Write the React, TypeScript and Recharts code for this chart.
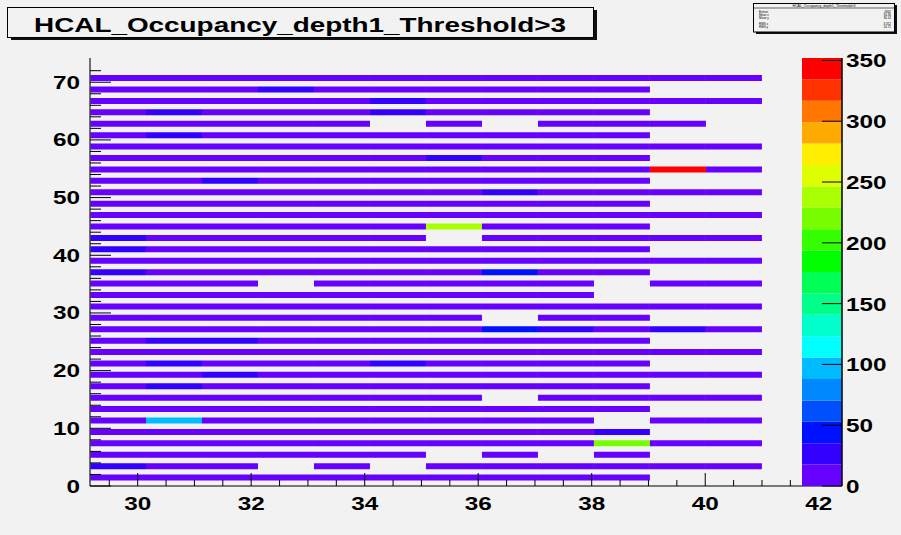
import React from "react";
import { ComposedChart, XAxis, YAxis, Bar, Cell } from "recharts";

// ieta bins (lower edges) and iphi rows (HF depth 1, odd iphi only)
const IETA_BINS = [29, 30, 31, 32, 33, 34, 35, 36, 37, 38, 39, 40];
const IPHI_ROWS = [
  1, 3, 5, 7, 9, 11, 13, 15, 17, 19, 21, 23, 25, 27, 29, 31, 33, 35,
  37, 39, 41, 43, 45, 47, 49, 51, 53, 55, 57, 59, 61, 63, 65, 67, 69, 71,
];

// occupancy per iphi row (bottom -> top), one value per ieta bin 29..40, 0 = empty
const OCCUPANCY = [
  /* 1 */ [10, 11, 10, 9, 10, 11, 10, 9, 10, 11, 0, 0],
  /* 3 */ [27, 11, 10, 0, 9, 0, 10, 11, 10, 9, 10, 11],
  /* 5 */ [10, 9, 11, 10, 9, 10, 0, 11, 0, 10, 0, 0],
  /* 7 */ [11, 10, 9, 10, 11, 10, 9, 10, 11, 221, 10, 9],
  /* 9 */ [10, 11, 10, 9, 10, 11, 10, 9, 10, 29, 0, 0],
  /* 11 */ [9, 98, 10, 11, 10, 9, 10, 11, 10, 0, 11, 10],
  /* 13 */ [11, 10, 9, 10, 11, 10, 9, 10, 11, 10, 0, 0],
  /* 15 */ [10, 9, 11, 10, 9, 10, 11, 0, 10, 9, 11, 10],
  /* 17 */ [9, 26, 10, 11, 10, 9, 10, 11, 10, 9, 0, 0],
  /* 19 */ [10, 11, 25, 9, 10, 11, 10, 9, 10, 11, 10, 9],
  /* 21 */ [11, 24, 10, 10, 11, 27, 9, 10, 11, 10, 0, 0],
  /* 23 */ [10, 9, 11, 10, 9, 10, 11, 10, 9, 10, 11, 10],
  /* 25 */ [9, 25, 26, 11, 10, 9, 10, 11, 10, 9, 0, 0],
  /* 27 */ [10, 11, 10, 9, 10, 11, 10, 44, 24, 10, 23, 11],
  /* 29 */ [11, 10, 9, 10, 11, 10, 9, 0, 11, 10, 0, 0],
  /* 31 */ [10, 9, 11, 10, 9, 10, 11, 10, 9, 10, 11, 10],
  /* 33 */ [9, 10, 10, 11, 10, 9, 10, 11, 10, 0, 0, 0],
  /* 35 */ [10, 11, 10, 0, 10, 11, 10, 9, 10, 0, 10, 9],
  /* 37 */ [26, 10, 9, 10, 11, 10, 9, 45, 11, 10, 0, 0],
  /* 39 */ [10, 9, 11, 10, 9, 10, 11, 10, 9, 10, 11, 10],
  /* 41 */ [27, 11, 10, 9, 10, 11, 10, 9, 10, 11, 0, 0],
  /* 43 */ [25, 10, 9, 10, 11, 10, 0, 10, 11, 10, 9, 10],
  /* 45 */ [10, 9, 11, 10, 9, 10, 238, 11, 10, 9, 0, 0],
  /* 47 */ [11, 10, 9, 10, 11, 10, 9, 10, 11, 10, 9, 11],
  /* 49 */ [10, 11, 10, 9, 10, 11, 10, 9, 10, 11, 0, 0],
  /* 51 */ [9, 10, 11, 10, 9, 10, 11, 24, 10, 9, 10, 11],
  /* 53 */ [10, 9, 26, 11, 10, 9, 10, 11, 10, 9, 0, 0],
  /* 55 */ [11, 10, 9, 10, 11, 10, 9, 10, 11, 10, 346, 10],
  /* 57 */ [10, 11, 10, 9, 10, 11, 25, 9, 10, 11, 0, 0],
  /* 59 */ [9, 10, 11, 10, 9, 10, 11, 10, 9, 10, 11, 10],
  /* 61 */ [10, 27, 10, 11, 10, 9, 10, 11, 10, 9, 0, 0],
  /* 63 */ [11, 10, 9, 10, 11, 0, 10, 0, 11, 10, 9, 0],
  /* 65 */ [10, 24, 11, 10, 9, 26, 11, 10, 9, 10, 0, 0],
  /* 67 */ [9, 10, 10, 11, 10, 25, 10, 11, 10, 9, 10, 11],
  /* 69 */ [10, 11, 10, 26, 10, 11, 10, 9, 10, 11, 0, 0],
  /* 71 */ [11, 10, 9, 10, 11, 10, 9, 10, 11, 10, 9, 10],
];

// ROOT rainbow palette, 20 contour levels (low -> high)
const PALETTE = [
  "#6600ff", "#3300ff", "#0011ff", "#0050ff", "#0088ff",
  "#00bbff", "#00ffff", "#00ffcc", "#00ff88", "#00ff55",
  "#00ff00", "#33ff00", "#77ff00", "#aaff00", "#ddff00",
  "#ffee00", "#ffaa00", "#ff7700", "#ff3300", "#ff0000",
];

const IETA_TICKS = [
  29.5, 30, 30.5, 31, 31.5, 32, 32.5, 33, 33.5, 34, 34.5, 35, 35.5,
  36, 36.5, 37, 37.5, 38, 38.5, 39, 39.5, 40, 40.5, 41, 41.5, 42,
];
const IPHI_TICKS = [
  0, 2, 4, 6, 8, 10, 12, 14, 16, 18, 20, 22, 24, 26, 28, 30, 32, 34, 36,
  38, 40, 42, 44, 46, 48, 50, 52, 54, 56, 58, 60, 62, 64, 66, 68, 70, 72,
];
const Z_TICKS = [0, 50, 100, 150, 200, 250, 300, 350];

const Z_MAX = 352;
const IPHI_SLOTS = 75; // histogram y bins 0..74
const BIN_X_RANGE = [29, 42.43];
const IETA_RANGE = [29.16, 42.41];
const IPHI_RANGE = [0, 74.2];

const TITLE = "HCAL_Occupancy_depth1_Threshold>3";
const STATS = [
  ["Entries", "4962"],
  ["Mean x", "34.36"],
  ["Mean y", "36.14"],
  ["RMS x", "3.312"],
  ["RMS y", "20.71"],
];

const BG = "#f2f2f2";
const FONT = "'Liberation Sans', Arial, sans-serif";
const STRETCH = 1.35;

const colorFor = (v: number) =>
  PALETTE[Math.min(PALETTE.length - 1, Math.floor(v / (Z_MAX / PALETTE.length)))];

// one table row per iphi bin; each ieta bin is a stacked segment of width 1
const table = Array.from({ length: IPHI_SLOTS }, (_, slot) => {
  const r = IPHI_ROWS.indexOf(slot);
  const row: Record<string, number> = { iphi: slot, base: IETA_BINS[0] };
  IETA_BINS.forEach((b, k) => {
    row[`w${b}`] = r >= 0 ? 1 : 0;
    row[`v${b}`] = r >= 0 ? OCCUPANCY[r][k] : 0;
  });
  return row;
});

const paletteRow: Record<string, number | string> = { name: "z" };
PALETTE.forEach((_, i) => {
  paletteRow[`l${i}`] = Z_MAX / PALETTE.length;
});

const label = (x: number, y: number, text: string | number, anchor: string) => (
  <text
    transform={`translate(${x},${y}) scale(${STRETCH},1)`}
    textAnchor={anchor as any}
    fontFamily={FONT}
    fontWeight="bold"
    fontSize={18}
    fill="#000"
  >
    {text}
  </text>
);

function IetaTick({ x, y, payload }: any) {
  const v = payload.value;
  const major = v % 2 === 0;
  return (
    <g>
      <line x1={x} x2={x} y1={y} y2={y - (major ? 13 : 6)} stroke="#000" />
      {major && label(x, y + 23.5, v, "middle")}
    </g>
  );
}

function IphiTick({ x, y, payload }: any) {
  const v = payload.value;
  const major = v % 10 === 0;
  return (
    <g>
      <line x1={x} x2={x + (major ? 21 : 11)} y1={y} y2={y} stroke="#000" />
      {major && label(x - 10, y + 6.5, v, "end")}
    </g>
  );
}

function ZTick({ x, y, payload }: any) {
  return (
    <g>
      <line x1={x - 20} x2={x} y1={y} y2={y} stroke="#000" />
      {label(x + 4, y + 7, payload.value, "start")}
    </g>
  );
}

export default function App() {
  return (
    <div style={{ position: "absolute", left: 0, top: 0, width: 901, height: 535, background: BG, overflow: "hidden" }}>
      <ComposedChart
        width={901}
        height={535}
        layout="vertical"
        data={table}
        margin={{ top: 58, right: 59, bottom: 0, left: 0 }}
        barCategoryGap={0}
        barGap={0}
      >
        <XAxis xAxisId="bins" type="number" domain={BIN_X_RANGE} allowDataOverflow hide height={0} />
        <YAxis yAxisId="bins" type="category" dataKey="iphi" reversed hide width={0} />
        <XAxis
          xAxisId="frame"
          orientation="top"
          type="number"
          domain={IETA_RANGE}
          allowDataOverflow
          height={0}
          tick={false}
          tickLine={false}
          axisLine={{ stroke: "#555", strokeWidth: 1.5 }}
        />
        <XAxis
          xAxisId="ieta"
          type="number"
          domain={IETA_RANGE}
          allowDataOverflow
          ticks={IETA_TICKS}
          interval={0}
          height={49}
          tickSize={0}
          tickMargin={0}
          tick={<IetaTick />}
          axisLine={{ stroke: "#000" }}
        />
        <YAxis
          yAxisId="iphi"
          type="number"
          dataKey="iphi"
          domain={IPHI_RANGE}
          allowDataOverflow
          reversed
          ticks={IPHI_TICKS}
          interval={0}
          width={90}
          tickSize={0}
          tickMargin={0}
          tick={<IphiTick />}
          axisLine={{ stroke: "#444", strokeWidth: 1.5 }}
        />
        <Bar dataKey="base" stackId="s" xAxisId="bins" yAxisId="bins" fill="none" isAnimationActive={false} />
        {IETA_BINS.map((b) => (
          <Bar key={b} dataKey={`w${b}`} stackId="s" xAxisId="bins" yAxisId="bins" isAnimationActive={false}>
            {table.map((row) => (
              <Cell key={row.iphi} fill={row[`v${b}`] > 0 ? colorFor(row[`v${b}`]) : "none"} />
            ))}
          </Bar>
        ))}
      </ComposedChart>

      <div style={{ position: "absolute", left: 802, top: 38 }}>
        <ComposedChart
          width={99}
          height={468}
          data={[paletteRow]}
          margin={{ top: 20, right: 0, bottom: 20, left: 0 }}
          barCategoryGap={0}
          barGap={0}
        >
          <XAxis dataKey="name" type="category" hide height={0} />
          <YAxis
            orientation="right"
            type="number"
            domain={[0, Z_MAX]}
            allowDataOverflow
            ticks={Z_TICKS}
            interval={0}
            width={59}
            tickSize={0}
            tickMargin={0}
            tick={<ZTick />}
            axisLine={{ stroke: "#000", strokeWidth: 1.5 }}
          />
          {PALETTE.map((c, i) => (
            <Bar key={c} dataKey={`l${i}`} stackId="p" fill={c} isAnimationActive={false} />
          ))}
        </ComposedChart>
      </div>

      <svg width={901} height={45} style={{ position: "absolute", left: 0, top: 0 }}>
        <rect x={11} y={10} width={586} height={30} fill="#111" />
        <rect x={7.5} y={7.5} width={586} height={30} fill={BG} stroke="#000" />
        <text
          transform={`translate(300,32) scale(1.43,1)`}
          textAnchor="middle"
          fontFamily={FONT}
          fontWeight="bold"
          fontSize={19.5}
          fill="#000"
        >
          {TITLE}
        </text>

        <rect x={756} y={5} width={141} height={29} fill="#111" />
        <rect x={753.5} y={3.5} width={141} height={28.5} fill={BG} stroke="#000" />
        <line x1={753.5} x2={894.5} y1={8} y2={8} stroke="#000" strokeWidth={0.6} />
        <text x={824} y={7} textAnchor="middle" fontFamily={FONT} fontSize={3.5} fill="#000">
          {TITLE}
        </text>
        {STATS.map(([k, v], i) => {
          const y = 13 + i * 3.2 + (i >= 3 ? 2.5 : 0);
          return (
            <g key={k}>
              <text x={759} y={y} fontFamily={FONT} fontSize={3} fill="#000">{k}</text>
              <text x={891} y={y} textAnchor="end" fontFamily={FONT} fontSize={3} fill="#000">{v}</text>
            </g>
          );
        })}
      </svg>
    </div>
  );
}
